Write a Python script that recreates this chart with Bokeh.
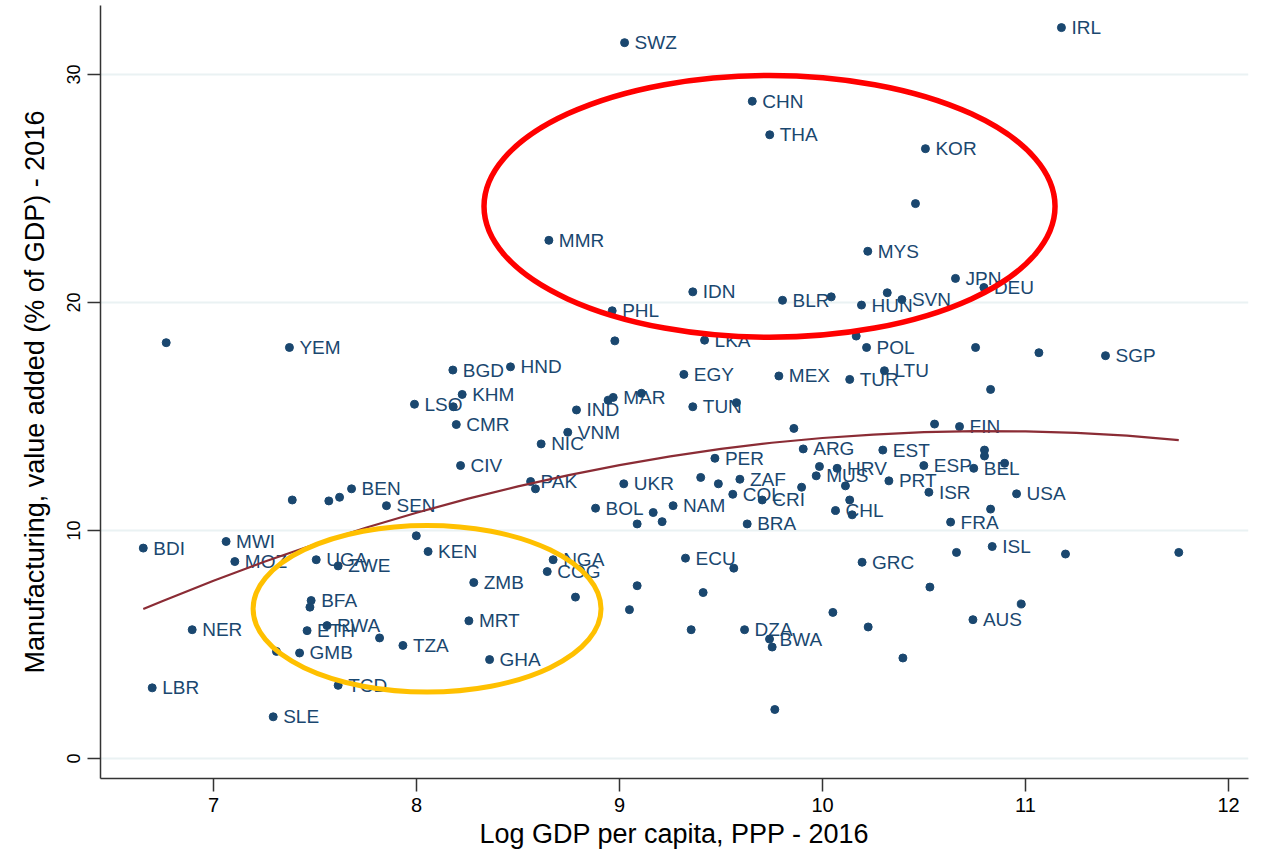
from bokeh.plotting import figure
from bokeh.models import Range1d, ColumnDataSource
from bokeh.embed import file_html
from bokeh.resources import INLINE
from bokeh.core.properties import value

# ---- data ----
codes = ["IRL", "SWZ", "CHN", "THA", "KOR", "", "MMR", "MYS", "JPN", "DEU",
         "", "SVN", "HUN", "IDN", "BLR", "", "PHL", "", "LKA", "",
         "POL", "", "YEM", "BGD", "HND", "EGY", "MEX", "TUR", "LTU", "",
         "", "SGP", "", "KHM", "LSO", "", "CMR", "MAR", "", "",
         "TUN", "", "IND", "VNM", "NIC", "", "", "FIN", "ARG", "EST",
         "", "", "CIV", "PER", "", "HRV", "ESP", "BEL", "", "MUS",
         "", "PRT", "PAK", "", "UKR", "", "", "ZAF", "COL", "CRI",
         "", "ISR", "USA", "", "", "", "BEN", "SEN", "BOL", "",
         "", "", "NAM", "BRA", "", "", "CHL", "", "FRA", "BDI",
         "MWI", "MOZ", "", "KEN", "UGA", "ZWE", "NGA", "COG", "ECU", "",
         "GRC", "", "ISL", "", "", "ZMB", "", "", "", "",
         "BFA", "", "", "", "", "MRT", "AUS", "NER", "ETH", "RWA",
         "", "", "DZA", "", "BWA", "", "TZA", "GMB", "", "GHA",
         "", "LBR", "TCD", "", "SLE"]

log_gdp = [11.177, 9.025, 9.654, 9.740, 10.507, 10.458, 8.652, 10.223, 10.655, 10.795,
           10.319, 10.391, 10.192, 9.361, 9.803, 10.043, 8.964, 8.977, 9.419, 10.166,
           10.217, 6.767, 7.374, 8.179, 8.463, 9.317, 9.785, 10.134, 10.305, 10.754,
           11.066, 11.394, 10.828, 8.225, 7.990, 8.181, 8.196, 8.969, 8.944, 9.108,
           9.361, 9.576, 8.788, 8.745, 8.614, 9.859, 10.552, 10.675, 9.905, 10.297,
           10.798, 10.798, 8.217, 9.470, 9.985, 10.072, 10.499, 10.745, 10.897, 9.969,
           10.113, 10.327, 8.562, 8.586, 9.021, 9.400, 9.487, 9.593, 9.558, 9.703,
           9.897, 10.524, 10.956, 7.388, 7.568, 7.621, 7.680, 7.852, 8.882, 9.166,
           9.087, 9.210, 9.264, 9.629, 10.134, 10.146, 10.064, 10.828, 10.631, 6.654,
           7.062, 7.105, 7.999, 8.057, 7.506, 7.614, 8.673, 8.644, 9.325, 9.563,
           10.195, 10.660, 10.836, 11.197, 11.755, 8.282, 8.783, 9.087, 9.412, 10.529,
           7.481, 7.475, 9.049, 10.051, 10.979, 8.258, 10.741, 6.895, 7.461, 7.559,
           7.818, 9.353, 9.616, 10.225, 9.739, 9.752, 7.933, 7.424, 7.310, 8.360,
           10.396, 6.698, 7.614, 9.765, 7.294]

manuf = [32.06, 31.40, 28.83, 27.36, 26.75, 24.34, 22.73, 22.25, 21.06, 20.66,
         20.43, 20.13, 19.89, 20.47, 20.10, 20.25, 19.64, 18.32, 18.35, 18.53,
         18.03, 18.24, 18.03, 17.04, 17.18, 16.85, 16.78, 16.63, 17.01, 18.03,
         17.80, 17.67, 16.19, 15.97, 15.54, 15.43, 14.65, 15.84, 15.72, 16.02,
         15.43, 15.61, 15.29, 14.31, 13.80, 14.48, 14.67, 14.56, 13.58, 13.53,
         13.53, 13.27, 12.85, 13.17, 12.81, 12.73, 12.85, 12.73, 12.95, 12.40,
         11.96, 12.18, 12.15, 11.83, 12.05, 12.33, 12.05, 12.25, 11.59, 11.34,
         11.90, 11.68, 11.61, 11.34, 11.30, 11.46, 11.83, 11.09, 10.98, 10.79,
         10.29, 10.39, 11.09, 10.29, 11.34, 10.69, 10.88, 10.94, 10.37, 9.23,
         9.52, 8.64, 9.77, 9.08, 8.72, 8.45, 8.72, 8.20, 8.79, 8.35,
         8.61, 9.04, 9.30, 8.97, 9.04, 7.72, 7.08, 7.58, 7.28, 7.52,
         6.93, 6.64, 6.53, 6.41, 6.78, 6.04, 6.09, 5.65, 5.61, 5.83,
         5.29, 5.65, 5.65, 5.77, 5.24, 4.89, 4.96, 4.63, 4.70, 4.34,
         4.41, 3.10, 3.21, 2.15, 1.83]

# quadratic fit curve
fit_x = [6.654, 6.75, 7.0, 7.25, 7.5, 7.75, 8.0, 8.25, 8.5, 8.75, 9.0, 9.25,
         9.5, 9.75, 10.0, 10.25, 10.5, 10.75, 11.0, 11.25, 11.5, 11.755]
fit_y = [6.56, 6.91, 7.80, 8.63, 9.40, 10.12, 10.78, 11.39, 11.94, 12.43, 12.87, 13.25,
         13.58, 13.85, 14.06, 14.21, 14.32, 14.36, 14.35, 14.28, 14.16, 13.97]

x_ticks = [7, 8, 9, 10, 11, 12]
y_ticks = [0, 10, 20, 30]

NAVY = "#1a476f"
FONT = "Liberation Sans"

p = figure(width=1268, height=851,
           x_range=Range1d(6.4433, 12.0985), y_range=Range1d(-0.876, 33.03),
           output_backend="svg", toolbar_location=None,
           min_border_left=100, min_border_right=20, min_border_top=5, min_border_bottom=72)
p.outline_line_color = None
p.background_fill_color = "white"
p.border_fill_color = "white"

p.xgrid.grid_line_color = None
p.ygrid.grid_line_color = "#eaf2f3"
p.ygrid.grid_line_width = 2
p.ygrid.ticker = y_ticks

p.xaxis.ticker = x_ticks
p.yaxis.ticker = y_ticks
for ax in (p.xaxis[0], p.yaxis[0]):
    ax.axis_line_color = "#333333"
    ax.axis_line_width = 1.5
    ax.major_tick_line_color = "#333333"
    ax.major_tick_line_width = 1.5
    ax.major_tick_in = 0
    ax.major_tick_out = 13
    ax.minor_tick_line_color = None
    ax.major_label_text_font = FONT
    ax.major_label_text_color = "black"
    ax.axis_label_text_font = FONT
    ax.axis_label_text_font_style = "normal"
    ax.axis_label_text_color = "black"
    ax.axis_label_text_font_size = "27px"

p.xaxis.axis_label = "Log GDP per capita, PPP - 2016"
p.xaxis.major_label_text_font_size = "20px"
p.xaxis.major_label_standoff = 6
p.xaxis.axis_label_standoff = 4

p.yaxis.axis_label = "Manufacturing, value added (% of GDP) - 2016"
p.yaxis.major_label_text_font_size = "18px"
p.yaxis.major_label_orientation = "vertical"
p.yaxis.major_label_standoff = 7
p.yaxis.axis_label_standoff = 15

src = ColumnDataSource(dict(x=log_gdp, y=manuf, code=codes))
p.scatter("x", "y", source=src, size=8, color=NAVY, line_color=NAVY)
p.text("x", "y", text="code", source=src, x_offset=10, text_baseline="middle",
       text_align="left", text_font=value(FONT), text_font_size="19px",
       text_color=NAVY)

p.line(fit_x, fit_y, line_color="#8b2c35", line_width=2.2)

# highlight ellipses
p.ellipse(x=[9.739], y=[24.22], width=[2.813], height=[11.48],
          fill_alpha=0, line_color="#ff0000", line_width=5.5)
p.ellipse(x=[8.052], y=[6.57], width=[1.714], height=[7.31],
          fill_alpha=0, line_color="#ffc000", line_width=5)

open("out.html", "w").write(file_html(p, INLINE))
